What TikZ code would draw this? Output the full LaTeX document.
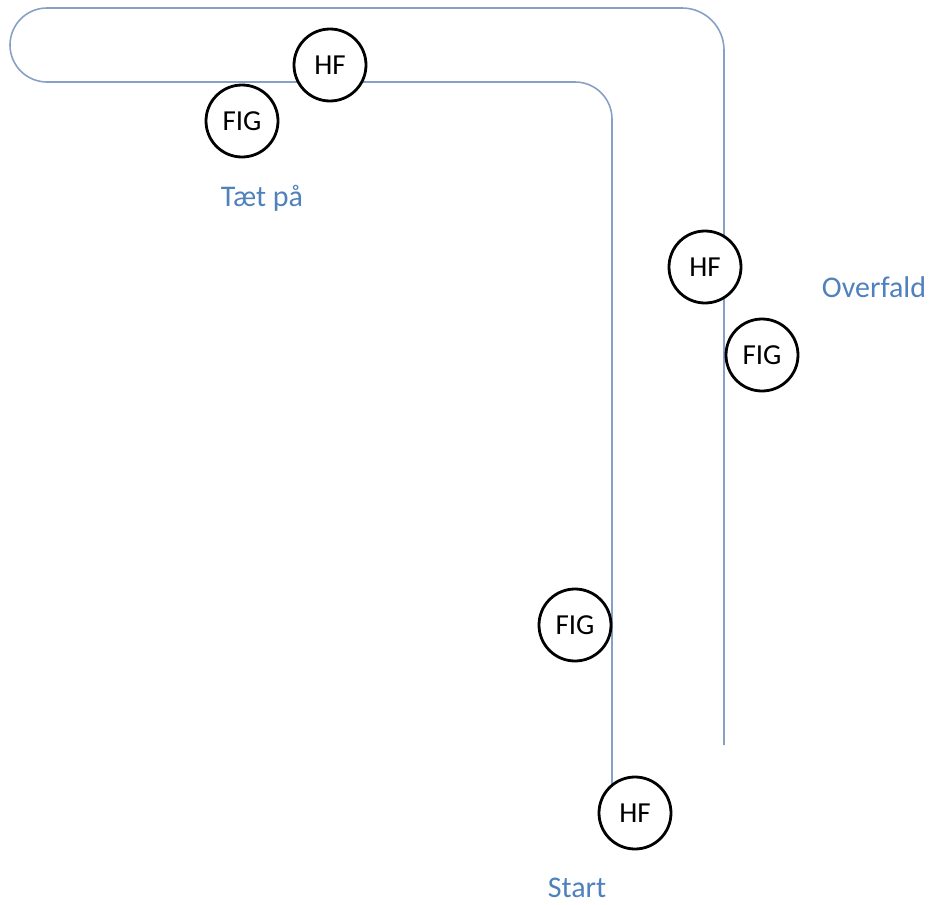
\documentclass[tikz,border=0pt]{standalone}
\usepackage{fontspec}
\setmainfont{Carlito}
\definecolor{track}{RGB}{135,160,198}
\definecolor{lbl}{RGB}{79,129,189}
\begin{document}
\begin{tikzpicture}[x=1pt,y=-1pt]
\useasboundingbox (0,0) rectangle (932,905);
\tikzset{
  runner/.style={draw, circle, fill=white, line width=2.8pt, minimum size=72pt, inner sep=0pt, font=\fontsize{29}{34}\selectfont},
  place/.style={text=lbl, font=\fontsize{30}{36}\selectfont}
}
% outer track
\path[draw,track,line width=1.6pt] (724,745) -- (724,50) arc[start angle=0, end angle=-90, radius=42]
  -- (47,8) arc[start angle=-90, end angle=-270, radius=37] -- (575,82)
  arc[start angle=-90, end angle=0, radius=37] -- (612,790);
\node[runner] (hf1) at (330,65) {HF};
\node[runner] (fig1) at (242,121) {FIG};
\node[runner] (hf2) at (705,267) {HF};
\node[runner] (fig2) at (762,355) {FIG};
\node[runner] (fig3) at (575,625) {FIG};
\node[runner] (hf3) at (635,813) {HF};
\node[place] (taet) at (262,198) {Tæt på};
\node[place] (overfald) at (874,287) {Overfald};
\node[place] (start) at (577,888) {Start};
\end{tikzpicture}
\end{document}
